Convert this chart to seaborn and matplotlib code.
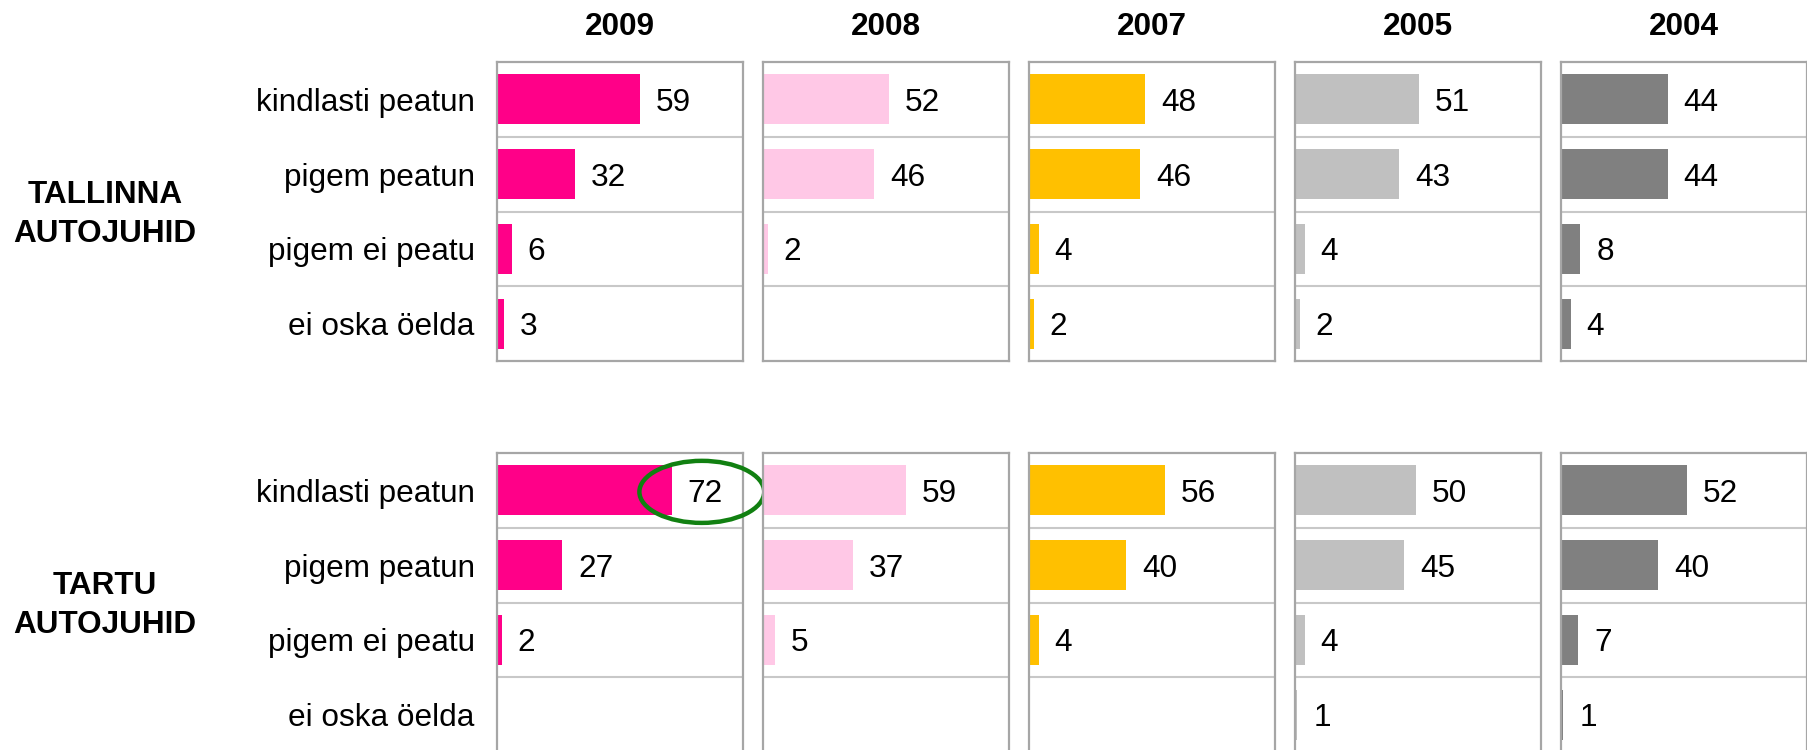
import numpy as np
import pandas as pd
import seaborn as sns
import matplotlib.pyplot as plt
from matplotlib.patches import Ellipse

# survey answers, % of drivers
categories = ["kindlasti peatun", "pigem peatun", "pigem ei peatu", "ei oska öelda"]
years = ["2009", "2008", "2007", "2005", "2004"]
groups = ["TALLINNA\nAUTOJUHID", "TARTU\nAUTOJUHID"]
year_colors = ["#FF0088", "#FFC8E6", "#FFC000", "#C0C0C0", "#808080"]

tallinn = [
    [59, 32, 6, 3],
    [52, 46, 2, np.nan],
    [48, 46, 4, 2],
    [51, 43, 4, 2],
    [44, 44, 8, 4],
]
tartu = [
    [72, 27, 2, np.nan],
    [59, 37, 5, np.nan],
    [56, 40, 4, np.nan],
    [50, 45, 4, 1],
    [52, 40, 7, 1],
]

rows = []
for g, table in zip(groups, [tallinn, tartu]):
    for y, vals in zip(years, table):
        for c, v in zip(categories, vals):
            rows.append({"group": g, "year": y, "category": c, "value": v})
df = pd.DataFrame(rows)

sns.set_style("white")
plt.rcParams["font.family"] = ["Liberation Sans", "DejaVu Sans"]
plt.rcParams["text.color"] = "black"
plt.rcParams["ytick.color"] = "black"
plt.rcParams["ytick.labelcolor"] = "black"

W, H = 1808, 750
fig = plt.figure(figsize=(W / 100, H / 100), dpi=100)

col_left, col_w, col_step = 497, 246, 266
panel_tops = [62, 453]
panel_h = 299
fs = 22.7
spine_col = "#A6A6A6"
grid_col = "#C8C8C8"

for gi, g in enumerate(groups):
    top = panel_tops[gi]
    for yi, y in enumerate(years):
        left = col_left + yi * col_step
        ax = fig.add_axes([left / W, 1 - (top + panel_h) / H, col_w / W, panel_h / H])
        sub = df[(df.group == g) & (df.year == y)]
        sns.barplot(
            data=sub, x="value", y="category", order=categories,
            color=year_colors[yi], saturation=1, width=0.67,
            errorbar=None, linewidth=0, ax=ax,
        )
        ax.set_xlim(0, 101.5)
        ax.set_ylim(3.5, -0.5)
        for yy in [0.5, 1.5, 2.5]:
            ax.axhline(yy, color=grid_col, lw=1.5, zorder=0)
        for s in ax.spines.values():
            s.set_visible(True)
            s.set_color(spine_col)
            s.set_linewidth(1.6)
        ax.set_xticks([])
        ax.set_xlabel("")
        ax.set_ylabel("")
        if yi == 0:
            ax.tick_params(axis="y", length=0, pad=16, labelsize=fs, labelcolor="black")
        else:
            ax.set_yticks([])

        for bar in ax.containers[0]:
            w = bar.get_width()
            if np.isnan(w):
                continue
            ax.annotate(
                f"{w:.0f}", (w, bar.get_y() + bar.get_height() / 2),
                xytext=(11.5, 0), textcoords="offset points",
                ha="left", va="center_baseline", fontsize=fs, color="black",
            )
            # highlight the 2009 Tartu top answer
            if gi == 1 and yi == 0 and bar.get_y() < 0:
                ax.add_patch(Ellipse(
                    (w + 12.5, 0.02), 51.5, 0.83, fill=False,
                    edgecolor="#118011", lw=3.2, clip_on=False, zorder=5,
                ))

        if gi == 0:
            ax.text(0.5, 1 + 35 / panel_h, y, transform=ax.transAxes,
                    ha="center", va="center", fontsize=fs, fontweight="bold")

    fig.text(105 / W, 1 - (top + panel_h / 2 + 3) / H, g, ha="center", va="center",
             multialignment="center", fontsize=fs, fontweight="bold", linespacing=1.35)

fig.savefig("out.png", dpi=100)
